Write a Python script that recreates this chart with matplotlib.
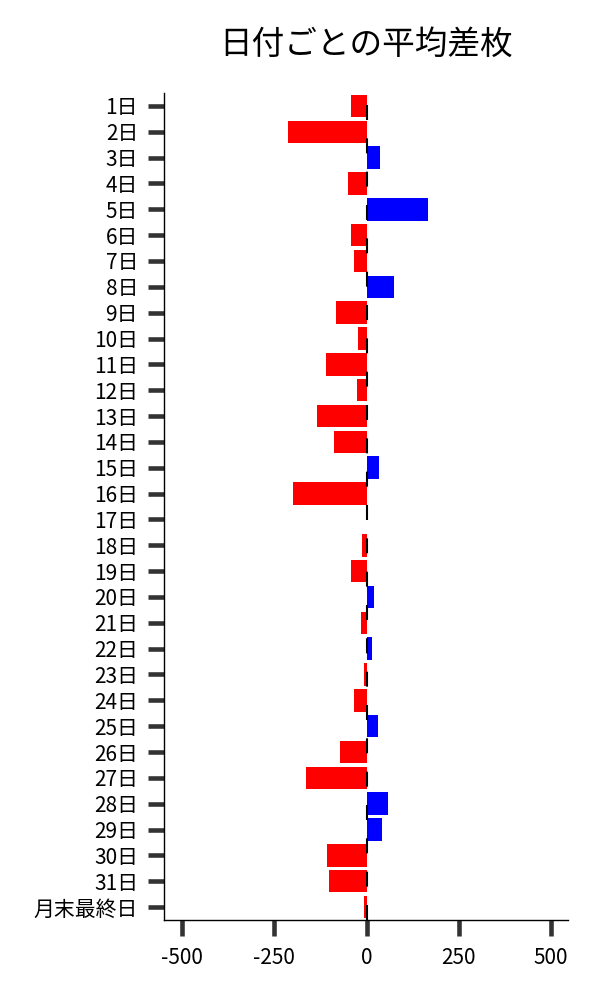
import matplotlib
matplotlib.use("Agg")
import matplotlib.pyplot as plt
import numpy as np

plt.rcParams['font.family'] = ['Noto Sans CJK JP', 'DejaVu Sans']

categories = [f"{d}日" for d in range(1, 32)] + ["月末最終日"]
values = [-41, -214, 37, -49, 167, -43, -33, 75, -84, -22,
          -111, -27, -133, -87, 35, -198, 2, -11, -43, 21,
          -16, 15, -8, -35, 32, -73, -163, 59, 43, -107,
          -101, -6]
title = "日付ごとの平均差枚"
xticks = [-500, -250, 0, 250, 500]

fig = plt.figure(figsize=(6, 10), dpi=100)
ax = fig.add_axes([0.273, 0.08, 0.674, 0.827])

y = np.arange(len(categories))
colors = ['#ff0000' if v < 0 else '#0000ff' for v in values]
ax.barh(y, values, height=0.87, color=colors, zorder=2)
ax.axvline(0, color='black', lw=1.5, dashes=(7.2, 8.8), zorder=3)

ax.set_yticks(y)
ax.set_yticklabels(categories)
ax.set_ylim(len(categories) - 0.5, -0.5)
ax.set_xlim(-549, 546)
ax.set_xticks(xticks)
ax.set_xticklabels([str(t) for t in xticks])

ax.tick_params(axis='both', length=11.5, width=3.3, color='#333333',
               labelsize=15, labelcolor='black')
ax.tick_params(axis='y', pad=7)
ax.tick_params(axis='x', pad=8)

for s in ['top', 'right']:
    ax.spines[s].set_visible(False)
for s in ['left', 'bottom']:
    ax.spines[s].set_linewidth(1.0)
    ax.spines[s].set_color('black')

fig.text(0.61, 0.955, title, ha='center', va='center', fontsize=23.5)

fig.savefig("out.png", dpi=100)
